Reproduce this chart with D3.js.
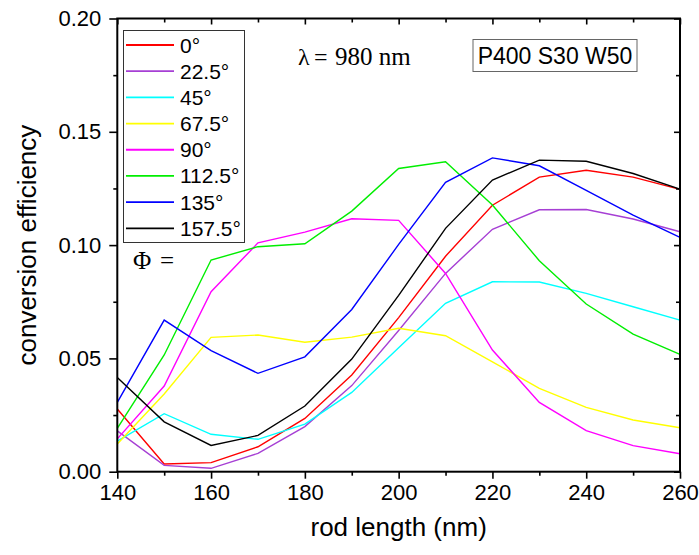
<!DOCTYPE html>
<html>
<head>
<meta charset="utf-8">
<script src="https://cdn.jsdelivr.net/npm/d3@7"></script>
<style>
  body { margin: 0; background: #fff; }
  svg { display: block; }
  .tick text { font-family: "Liberation Sans", Arial, sans-serif; font-size: 22px; fill: #000; }
</style>
</head>
<body>
<svg id="chart" width="699" height="555"></svg>
<script>
// x values (rod length, nm)
var rodLength = [140, 150, 160, 170, 180, 190, 200, 210, 220, 230, 240, 250, 260];

// legend labels (polarisation angle)
var angleLabels = ['0°', '22.5°', '45°', '67.5°', '90°', '112.5°', '135°', '157.5°'];

// conversion efficiency for each angle
var eff0   = [0.0277, 0.0034, 0.0040, 0.0110, 0.0235, 0.0427, 0.0680, 0.0951, 0.1176, 0.1300, 0.1330, 0.1300, 0.1246];
var eff22  = [0.0180, 0.0028, 0.0015, 0.0081, 0.0199, 0.0380, 0.0623, 0.0875, 0.1070, 0.1156, 0.1157, 0.1115, 0.1059];
var eff45  = [0.0135, 0.0256, 0.0165, 0.0143, 0.0210, 0.0350, 0.0547, 0.0743, 0.0838, 0.0837, 0.0787, 0.0728, 0.0669];
var eff67  = [0.0122, 0.0343, 0.0593, 0.0603, 0.0571, 0.0594, 0.0633, 0.0600, 0.0485, 0.0368, 0.0284, 0.0228, 0.0194];
var eff90  = [0.0145, 0.0378, 0.0794, 0.1010, 0.1057, 0.1116, 0.1109, 0.0875, 0.0537, 0.0306, 0.0181, 0.0115, 0.0079];
var eff112 = [0.0191, 0.0515, 0.0934, 0.0993, 0.1006, 0.1150, 0.1338, 0.1368, 0.1177, 0.0931, 0.0740, 0.0607, 0.0518];
var eff135 = [0.0306, 0.0669, 0.0534, 0.0434, 0.0507, 0.0716, 0.1003, 0.1277, 0.1385, 0.1350, 0.1242, 0.1132, 0.1034];
var eff157 = [0.0416, 0.0220, 0.0116, 0.0160, 0.0290, 0.0497, 0.0778, 0.1074, 0.1287, 0.1375, 0.1370, 0.1316, 0.1247];

// ticks
var xMajorTicks = [140, 160, 180, 200, 220, 240, 260];
var xMinorTicks = [150, 170, 190, 210, 230, 250];
var yMajorTicks = [0.00, 0.05, 0.10, 0.15, 0.20];
var yMinorTicks = [0.025, 0.075, 0.125, 0.175];

var lineColors = ['#ff0000', '#a63fd4', '#00ffff', '#ffff00', '#ff00ff', '#00ee00', '#0000ff', '#000000'];

var svg;
var margin = { top: 18.5, right: 19, bottom: 83.3, left: 117.3 };
var width = 699, height = 555;
var innerWidth = width - margin.left - margin.right;
var innerHeight = height - margin.top - margin.bottom;

document.addEventListener('DOMContentLoaded', function () {
  svg = d3.select('#chart');
  drawChart();
});

// axis with tick marks only (no labels, no domain line)
function tickOnly(g, axis) {
  g.call(axis);
  g.select('.domain').remove();
  g.selectAll('text').remove();
}

function drawChart() {
  var allSeries = [eff0, eff22, eff45, eff67, eff90, eff112, eff135, eff157];

  var xScale = d3.scaleLinear().domain([140, 260]).range([0, innerWidth]);
  var yScale = d3.scaleLinear().domain([0, 0.20]).range([innerHeight, 0]);

  var g = svg.append('g')
    .attr('transform', `translate(${margin.left},${margin.top})`);

  // lines
  var line = d3.line()
    .x((d, i) => xScale(rodLength[i]))
    .y(d => yScale(d));

  g.selectAll('.series')
    .data(allSeries)
    .enter()
    .append('path')
    .attr('class', 'series')
    .attr('d', line)
    .style('fill', 'none')
    .style('stroke', (d, i) => lineColors[i])
    .style('stroke-width', 1.4);

  // bottom axis - major with labels, minor without
  g.append('g')
    .attr('transform', `translate(0,${innerHeight})`)
    .call(d3.axisBottom(xScale).tickValues(xMajorTicks).tickSize(7).tickPadding(6).tickSizeOuter(0))
    .call(a => a.select('.domain').remove());
  tickOnly(g.append('g').attr('transform', `translate(0,${innerHeight})`),
    d3.axisBottom(xScale).tickValues(xMinorTicks).tickSize(4));

  // left axis
  g.append('g')
    .call(d3.axisLeft(yScale).tickValues(yMajorTicks).tickSize(8).tickPadding(8).tickFormat(d3.format('.2f')))
    .call(a => a.select('.domain').remove());
  tickOnly(g.append('g'), d3.axisLeft(yScale).tickValues(yMinorTicks).tickSize(4));

  // top and right axes, ticks pointing inward
  tickOnly(g.append('g'), d3.axisBottom(xScale).tickValues(xMajorTicks).tickSize(6));
  tickOnly(g.append('g'), d3.axisBottom(xScale).tickValues(xMinorTicks).tickSize(4));
  tickOnly(g.append('g').attr('transform', `translate(${innerWidth},0)`),
    d3.axisLeft(yScale).tickValues(yMajorTicks).tickSize(6));
  tickOnly(g.append('g').attr('transform', `translate(${innerWidth},0)`),
    d3.axisLeft(yScale).tickValues(yMinorTicks).tickSize(4));

  g.selectAll('.tick line').style('stroke', '#000').style('stroke-width', 1.6);

  // frame
  g.append('rect')
    .attr('x', 0).attr('y', 0)
    .attr('width', innerWidth).attr('height', innerHeight)
    .style('fill', 'none')
    .style('stroke', '#000')
    .style('stroke-width', 2);

  // axis titles
  svg.append('text')
    .attr('x', margin.left + innerWidth / 2)
    .attr('y', 536)
    .attr('text-anchor', 'middle')
    .style('font-family', '"Liberation Sans", Arial, sans-serif')
    .style('font-size', '26px')
    .text('rod length (nm)');

  svg.append('text')
    .attr('transform', `translate(36,${margin.top + innerHeight / 2}) rotate(-90)`)
    .attr('text-anchor', 'middle')
    .style('font-family', '"Liberation Sans", Arial, sans-serif')
    .style('font-size', '26px')
    .text('conversion efficiency');

  // legend
  var legend = svg.append('g');
  legend.append('rect')
    .attr('x', 123.5).attr('y', 30.5)
    .attr('width', 121).attr('height', 212)
    .style('fill', '#fff')
    .style('stroke', '#333')
    .style('stroke-width', 1);

  var rowY = d3.scaleLinear().domain([0, 7]).range([45, 228.3]);
  var rows = legend.selectAll('.row')
    .data(angleLabels)
    .enter()
    .append('g')
    .attr('class', 'row')
    .attr('transform', (d, i) => `translate(0,${rowY(i)})`);
  rows.append('line')
    .attr('x1', 126).attr('x2', 174)
    .style('stroke', (d, i) => lineColors[i])
    .style('stroke-width', 1.8);
  rows.append('text')
    .attr('x', 180)
    .attr('dy', '0.36em')
    .style('font-family', '"Liberation Sans", Arial, sans-serif')
    .style('font-size', '21px')
    .text(d => d);

  // annotations
  var serif = '"Liberation Serif", "Times New Roman", serif';
  svg.append('text').attr('x', 298).attr('y', 64.5)
    .style('font-family', serif).style('font-size', '24px').text('λ');
  svg.append('text').attr('x', 314).attr('y', 64.5)
    .style('font-family', serif).style('font-size', '24px').text('=');
  svg.append('text').attr('x', 335).attr('y', 64.5)
    .style('font-family', serif).style('font-size', '25px').text('980 nm');

  svg.append('text').attr('x', 133).attr('y', 268.5)
    .style('font-family', serif).style('font-size', '25px').text('Φ');
  svg.append('text').attr('x', 160).attr('y', 268.5)
    .style('font-family', serif).style('font-size', '25px').text('=');

  svg.append('rect')
    .attr('x', 473).attr('y', 39.5)
    .attr('width', 164).attr('height', 32)
    .style('fill', '#fff')
    .style('stroke', '#666')
    .style('stroke-width', 1);
  svg.append('text')
    .attr('x', 555).attr('y', 63.5)
    .attr('text-anchor', 'middle')
    .style('font-family', '"Liberation Sans", Arial, sans-serif')
    .style('font-size', '23px')
    .text('P400 S30 W50');
}
</script>
</body>
</html>
